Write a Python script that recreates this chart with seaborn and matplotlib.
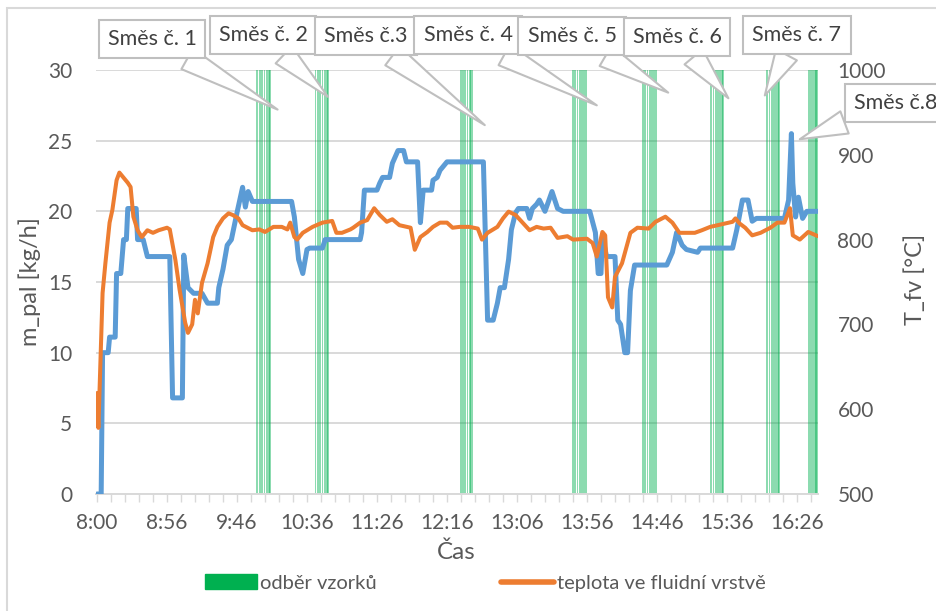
import matplotlib
matplotlib.use('Agg')
import matplotlib.pyplot as plt
import seaborn as sns
from matplotlib.patches import Patch, Rectangle
from matplotlib.lines import Line2D

# x = minutes on the chart's time axis (tick every 50), y left = kg/h, y right = degC
TICK_LABELS = ['8:00', '8:56', '9:46', '10:36', '11:26', '12:16',
               '13:06', '13:56', '14:46', '15:36', '16:26']

blue_t = [0, 3, 4, 8, 9, 13, 14, 17, 19, 21, 22, 28, 29, 33, 36, 52, 54, 61, 62, 65,
          69, 75, 79, 86, 87, 90, 93, 96, 100, 104, 106, 108, 111, 139, 141, 144, 147,
          150, 152, 161, 163, 188, 189, 191, 200, 202, 204, 209, 211, 215, 219, 221,
          229, 231, 233, 239, 240, 243, 245, 250, 276, 279, 283, 286, 288, 291, 294,
          296, 299, 301, 307, 309, 311, 314, 316, 320, 325, 329, 333, 352, 356, 358,
          360, 361, 364, 370, 372, 374, 377, 379, 381, 384, 407, 411, 414, 418, 421,
          429, 431, 436, 454, 457, 461, 465, 468, 471, 491, 494, 496, 497, 499, 501,
          504, 507, 515]
blue_val = [0, 0, 10.0, 10.0, 11.1, 11.1, 15.6, 15.6, 18.0, 18.0, 20.2, 20.2, 18.0, 18.0,
            16.8, 16.8, 6.8, 6.8, 16.9, 14.6, 14.2, 14.2, 13.5, 13.5, 14.6, 15.9, 17.6,
            18.0, 19.9, 21.7, 20.3, 21.4, 20.7, 20.7, 19.6, 16.6, 15.6, 17.3, 17.4, 17.4,
            18.0, 18.0, 18.5, 21.5, 21.5, 22.0, 22.4, 22.4, 23.4, 24.3, 24.3, 23.5, 23.5,
            19.2, 21.5, 21.5, 22.2, 22.4, 22.9, 23.5, 23.5, 12.3, 12.3, 13.5, 14.6, 14.6,
            16.6, 18.7, 19.9, 20.2, 20.2, 19.5, 20.2, 20.5, 20.8, 20.0, 21.4, 20.2, 20.0,
            20.0, 18.5, 15.6, 15.6, 18.2, 16.8, 16.8, 12.3, 12.0, 10.0, 10.0, 14.4, 16.2,
            16.2, 17.1, 18.5, 17.6, 17.3, 17.1, 17.4, 17.4, 17.4, 18.7, 20.8, 20.8, 19.3,
            19.5, 19.5, 20.8, 25.5, 22.0, 19.6, 21.0, 19.5, 20.0, 20.0]

orange_t = [0, 1, 4, 6, 9, 11, 14, 16, 19, 22, 24, 26, 29, 32, 36, 40, 44, 50, 52, 56,
            59, 63, 65, 68, 70, 72, 75, 79, 83, 86, 90, 94, 97, 101, 104, 111, 116, 120,
            126, 132, 136, 138, 141, 143, 147, 154, 161, 168, 171, 175, 181, 183, 188,
            193, 198, 202, 207, 211, 216, 224, 227, 231, 236, 240, 245, 250, 254, 259,
            266, 272, 275, 279, 286, 290, 294, 299, 304, 309, 314, 319, 324, 329, 336,
            340, 350, 354, 357, 361, 363, 365, 368, 370, 375, 381, 386, 394, 399, 406,
            411, 416, 421, 427, 432, 438, 446, 454, 456, 459, 463, 468, 474, 481, 486,
            491, 495, 497, 502, 508, 515]
orange_val = [619, 578, 737, 772, 820, 835, 870, 879, 873, 867, 862, 827, 811, 803, 811,
              808, 811, 814, 812, 776, 741, 702, 690, 700, 729, 713, 749, 772, 803, 815,
              825, 831, 829, 825, 817, 811, 812, 809, 815, 815, 812, 820, 803, 800, 808,
              815, 820, 822, 808, 808, 812, 814, 820, 823, 837, 829, 821, 824, 817, 814,
              788, 803, 809, 815, 820, 820, 814, 815, 815, 813, 800, 808, 815, 825, 833,
              829, 820, 811, 815, 813, 814, 802, 804, 800, 801, 796, 780, 809, 805, 732,
              720, 756, 772, 808, 814, 813, 821, 827, 820, 808, 808, 808, 811, 815, 818,
              821, 825, 819, 814, 805, 808, 814, 820, 820, 837, 805, 800, 809, 804]

# sampling moments ("odber vzorku"), one list per mixture
samples_1 = [114.5, 116.3, 118.0, 119.6, 121.2, 122.8, 123.8]
samples_2 = [156.0, 157.7, 159.4, 161.0, 162.6, 164.2, 165.0]
samples_3 = [259.8, 261.4, 263.0, 264.6, 266.2, 267.4, 268.2]
samples_4 = [340.0, 341.6, 343.2, 344.8, 346.4, 348.0, 349.2]
samples_5 = [390.0, 391.6, 393.2, 394.8, 396.4, 398.0, 399.2]
samples_6 = [438.8, 440.4, 442.0, 443.6, 445.2, 446.6, 447.4]
samples_7 = [478.8, 480.4, 482.0, 483.6, 485.2, 486.6, 487.4]
samples_8 = [508.6, 510.0, 511.4, 512.6, 513.4, 514.4]
SAMPLE_LEVEL = 30

mix_labels = ['Směs č. 1', 'Směs č. 2', 'Směs č.3', 'Směs č. 4',
              'Směs č. 5', 'Směs č. 6', 'Směs č. 7', 'Směs č.8']
mix_tip_t = [129, 165, 277, 357, 408, 451, 477, 502]
mix_tip_v = [27.2, 28.1, 26.1, 27.5, 28.4, 28.0, 28.2, 25.1]

BLUE = '#5B9BD5'
ORANGE = '#ED7D31'
GREEN = '#00B050'
GRID = '#D9D9D9'
TXT = '#595959'

sns.set_style('white')
plt.rcParams['font.family'] = ['Lato', 'DejaVu Sans']

W, H = 936, 611
fig = plt.figure(figsize=(W / 100, H / 100), dpi=100)
ax = fig.add_axes([96 / W, 1 - 494 / H, (818 - 96) / W, (494 - 70) / H])

all_samples = samples_1 + samples_2 + samples_3 + samples_4 + samples_5 + samples_6 + samples_7 + samples_8
ax.bar(all_samples, [SAMPLE_LEVEL] * len(all_samples), width=1.25, color=GREEN,
       alpha=0.45, linewidth=0, zorder=2)

sns.lineplot(x=blue_t, y=blue_val, ax=ax, color=BLUE, linewidth=3.6,
             solid_joinstyle='round', solid_capstyle='round', zorder=3)

ax.set_xlim(-0.7, 515)
ax.set_ylim(0, 30)
ax.set_yticks(range(0, 31, 5))
ax.set_xticks(range(0, 501, 50))
ax.set_xticklabels(TICK_LABELS)
ax.set_xticks(range(0, 516, 10), minor=True)
ax.yaxis.grid(True, color=GRID, linewidth=1.4)
ax.xaxis.grid(False)
ax.set_axisbelow(True)
for s in ['top', 'left', 'right']:
    ax.spines[s].set_visible(False)
ax.spines['bottom'].set_color(GRID)
ax.spines['bottom'].set_linewidth(1.4)
ax.tick_params(axis='x', which='both', bottom=True, length=6, width=1, color=GRID,
               labelsize=15, labelcolor=TXT, pad=8)
ax.tick_params(axis='y', length=0, labelsize=15, labelcolor=TXT, pad=17)
ax.set_xlabel('')
ax.set_ylabel('')

ax2 = ax.twinx()
sns.lineplot(x=orange_t, y=orange_val, ax=ax2, color=ORANGE, linewidth=2.9,
             solid_joinstyle='round', solid_capstyle='round')
ax2.set_ylim(500, 1000)
ax2.set_yticks(range(500, 1001, 100))
ax2.grid(False)
for s in ax2.spines.values():
    s.set_visible(False)
ax2.tick_params(axis='y', length=0, labelsize=15, labelcolor=TXT, pad=14)
ax2.set_ylabel('')

fig.text(30 / W, 1 - 282 / H, 'm_pal [kg/h]', rotation=90, ha='center', va='center',
         fontsize=17, color=TXT)
fig.text(915 / W, 1 - 279 / H, 'T_fv [°C]', rotation=90, ha='center', va='center',
         fontsize=17, color=TXT)
fig.text(456 / W, 1 - 552 / H, 'Čas', ha='center', va='center', fontsize=17.5, color=TXT)

# callouts
box_cx = [152, 263, 366, 468, 572, 677, 797, 896]
box_cy = [39, 35, 36, 35, 36, 37, 35, 103]
for lab, tt, vv, cx, cy in zip(mix_labels, mix_tip_t, mix_tip_v, box_cx, box_cy):
    ax2.annotate(lab, xy=(tt, 500 + vv / 30 * 500), xycoords='data',
                 xytext=(cx, H - cy), textcoords='figure pixels',
                 ha='center', va='center', fontsize=15.5, color='#404040',
                 bbox=dict(boxstyle='square,pad=0.42', fc='white', ec='#BFBFBF', lw=1.5),
                 arrowprops=dict(arrowstyle='wedge,tail_width=1.1', fc='white',
                                 ec='#BFBFBF', lw=1.5, shrinkA=0, shrinkB=0),
                 annotation_clip=False, zorder=10)

handles = [Patch(color=GREEN), Line2D([0], [0], color=ORANGE, lw=4, solid_capstyle='round')]
fig.legend(handles, ['odběr vzorků', 'teplota ve fluidní vrstvě'], loc='center',
           bbox_to_anchor=(485 / W, 1 - 583 / H), ncol=2, frameon=False, fontsize=14.5,
           labelcolor=TXT, handlelength=2.6, handletextpad=0.15, columnspacing=6.2)

fig.patches.append(Rectangle((7 / W, -0.1), 1.2, (H - 8) / H + 0.1,
                             transform=fig.transFigure, fill=False, ec=GRID, lw=1.5))

fig.savefig('out.png', dpi=100)
